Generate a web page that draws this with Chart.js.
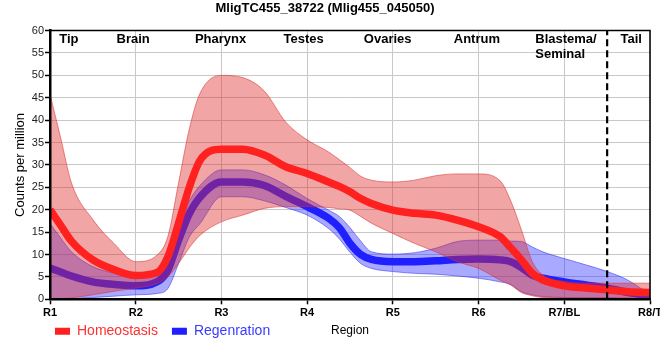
<!DOCTYPE html>
<html><head><meta charset="utf-8">
<script src="https://cdn.jsdelivr.net/npm/chart.js@4/dist/chart.umd.min.js"></script>
<style>html,body{margin:0;padding:0;background:#fff;overflow:hidden}</style>
</head><body>
<canvas id="c" width="660" height="360"></canvas>
<script>
// ---- data ----
const chartTitle = 'MligTC455_38722 (Mlig455_045050)';
const xLabels = ['R1','R2','R3','R4','R5','R6','R7/BL','R8/T'];
const regionNames = [['Tip'],['Brain'],['Pharynx'],['Testes'],['Ovaries'],['Antrum'],['Blastema/','Seminal'],['Tail']];
const regionCenters = [1.22, 1.97, 2.99, 3.96, 4.94, 5.98, 7.02, 7.78];
const tailBoundary = 7.5;
const seriesNames = ['Homeostasis', 'Regenration'];

const samplePos = [1, 1.125, 1.25, 1.5, 1.75, 2, 2.25, 2.375, 2.5, 2.625, 2.75, 3, 3.25, 3.5, 3.75, 4,
  4.25, 4.375, 4.5, 4.625, 4.75, 5, 5.25, 5.5, 5.75, 6, 6.25, 6.375, 6.5, 6.625, 6.75, 7, 7.25, 7.5, 7.75, 8];

const homMean = [20, 16.5, 13, 8.8, 6.6, 5.3, 6.0, 9.5, 17, 25, 31, 33.5, 33.5, 32.2, 29.6, 28.1,
  26.2, 25.2, 24, 22.5, 21.4, 19.9, 19.2, 18.8, 17.7, 16.2, 14, 11.5, 8.8, 5.8, 4.3, 3, 2.5, 2.1, 1.7, 1.5];
const homHi = [45.8, 36, 26, 17.8, 12.4, 8.4, 9.9, 14, 26, 38, 46, 50, 49.5, 46.5, 39.6, 35.6,
  32.9, 31.2, 29.4, 27.5, 26.6, 26.2, 26.6, 27.6, 28, 28, 26.5, 22, 15.5, 8.5, 5.4, 4, 3.6, 3.6, 3.6, 3.6];
const homLo = [0, 0.1, 0.3, 1, 1.8, 2.5, 3.5, 5, 8, 11.5, 14.3, 17.3, 18.8, 20.3, 20.7, 20.7,
  20.5, 20.2, 19.9, 18.5, 17, 14.7, 12.5, 10.6, 8.4, 6.9, 4.3, 3.2, 1.5, 0.8, 0.4, 0.3, 0.3, 0.3, 0.4, 0.5];

const regMean = [7, 6.1, 5.2, 3.9, 3.3, 3.0, 3.9, 6.5, 13.2, 19.1, 22.8, 26.2, 26.2, 25.4, 23, 20.7,
  18.1, 16, 12.5, 10, 8.9, 8.4, 8.4, 8.6, 8.9, 9, 8.8, 8.4, 7.1, 5.4, 4.7, 3.9, 3.2, 2.5, 1.5, 0.7];
const regHi = [16.9, 13.7, 10.6, 7.3, 5.8, 4.8, 5.8, 8, 16.9, 22, 25.4, 28.9, 28.9, 27.8, 25.5, 22.5,
  19.9, 18.5, 16, 13, 10.6, 10.1, 10.4, 11.4, 12.9, 13.2, 13.2, 13, 12.9, 11.7, 10.6, 9.1, 7.7, 6.2, 4.2, 1];
const regLo = [0, 0, 0.1, 0.4, 0.7, 1.0, 1.3, 2.4, 8, 13.9, 16.9, 22.9, 22.9, 22, 20.5, 18.8,
  15.8, 13.5, 10.5, 8, 6.9, 6.2, 5.8, 5.6, 5.2, 4.7, 3.9, 3.3, 1.7, 1, 0.6, 0.4, 0.3, 0.3, 0.2, 0.1];

// ---- styling ----
const FONT = '"Liberation Sans", Arial, sans-serif';
const RED = '#ff2020', BLUE = '#2020ff';
const RED_BAND = 'rgba(225,40,40,0.42)', BLUE_BAND = 'rgba(40,40,255,0.40)';
const RED_EDGE = 'rgba(215,50,50,0.55)', BLUE_EDGE = 'rgba(50,50,240,0.55)';
const legendColors = [RED, BLUE];
const legendTextColors = ['#ff3030', '#3a3aff'];

const pts = arr => samplePos.map((x, i) => ({x, y: arr[i]}));
const common = {pointRadius: 0, pointHoverRadius: 0, cubicInterpolationMode: 'monotone'};

const datasets = [
  {label: 'tail', data: [{x: tailBoundary, y: 0}, {x: tailBoundary, y: 60}], borderColor: '#000',
   borderWidth: 2.2, borderDash: [7, 4], fill: false, pointRadius: 0, tension: 0},
  {label: seriesNames[0], data: pts(homMean), borderColor: RED, borderWidth: 7.5, fill: false, ...common},
  {label: 'homHi', data: pts(homHi), borderColor: RED_EDGE, borderWidth: 1, backgroundColor: RED_BAND, fill: '+1', ...common},
  {label: 'homLo', data: pts(homLo), borderColor: RED_EDGE, borderWidth: 1, fill: false, ...common},
  {label: seriesNames[1], data: pts(regMean), borderColor: BLUE, borderWidth: 7.5, fill: false, ...common},
  {label: 'regHi', data: pts(regHi), borderColor: BLUE_EDGE, borderWidth: 1, backgroundColor: BLUE_BAND, fill: '+1', ...common},
  {label: 'regLo', data: pts(regLo), borderColor: BLUE_EDGE, borderWidth: 1, fill: false, ...common}
];

const decorPlugin = {
  id: 'decor',
  afterLayout(chart) {
    const lg = chart.legend;
    if (!lg) return;
    lg.top = chart.chartArea.bottom + 11;
    lg.bottom = 360;
    lg.left = 41;
    lg.right = 660;
  },
  afterDatasetsDraw(chart) {
    const {ctx, chartArea: a, scales: {x}} = chart;
    ctx.save();
    ctx.strokeStyle = '#000';
    ctx.lineWidth = 1.5;
    ctx.beginPath();
    ctx.moveTo(a.left, a.top);
    ctx.lineTo(a.right, a.top);
    ctx.lineTo(a.right, a.bottom);
    ctx.stroke();
    ctx.font = 'bold 13px ' + FONT;
    ctx.fillStyle = '#000';
    ctx.textBaseline = 'middle';
    ctx.textAlign = 'left';
    regionNames.forEach((lines, i) => {
      const cx = x.getPixelForValue(regionCenters[i]);
      const w = Math.max(...lines.map(l => ctx.measureText(l).width));
      lines.forEach((l, j) => ctx.fillText(l, cx - w / 2, a.top + 9 + j * 14.5));
    });
    ctx.restore();
  }
};

new Chart(document.getElementById('c'), {
  type: 'line',
  data: {datasets},
  options: {
    responsive: false,
    animation: false,
    events: [],
    layout: {padding: {left: 0, right: 10, top: 0, bottom: 0}},
    plugins: {
      title: {display: true, text: chartTitle, color: '#000',
              font: {family: FONT, size: 13, weight: 'bold'}, padding: {top: 1, bottom: 14}},
      tooltip: {enabled: false},
      legend: {
        display: true, position: 'bottom', align: 'start', maxHeight: 20.7,
        labels: {
          boxWidth: 15, boxHeight: 7, padding: 14,
          font: {family: FONT, size: 14},
          generateLabels: () => seriesNames.map((name, i) => ({
            text: name, fillStyle: legendColors[i], strokeStyle: legendColors[i],
            lineWidth: 0, fontColor: legendTextColors[i], hidden: false, datasetIndex: i === 0 ? 1 : 4
          }))
        }
      }
    },
    scales: {
      x: {
        type: 'linear', min: 1, max: 8,
        afterFit: s => { s.height = 40; s.paddingLeft = 0; s.paddingRight = 0; },
        ticks: {stepSize: 1, autoSkip: false, maxRotation: 0, padding: 2, color: '#000',
                font: {family: FONT, size: 11, weight: 'bold'},
                callback: v => xLabels[Math.round(v) - 1] ?? ''},
        grid: {color: '#c8c8c8', lineWidth: 1, tickColor: '#000', tickLength: 5, tickWidth: 1.5},
        border: {display: true, color: '#000', width: 2.5, z: 1},
        title: {display: true, text: 'Region', color: '#000', font: {family: FONT, size: 12},
                padding: {top: 0, bottom: 1}}
      },
      y: {
        type: 'linear', min: 0, max: 60,
        afterFit: s => { s.width = 50; },
        ticks: {stepSize: 5, padding: 1, color: '#222', font: {family: FONT, size: 11}},
        grid: {color: '#c8c8c8', lineWidth: 1, tickColor: '#000', tickLength: 5, tickWidth: 1.5},
        border: {display: true, color: '#000', width: 2.5, z: 1},
        title: {display: true, text: 'Counts per million', color: '#000', font: {family: FONT, size: 13},
                padding: {top: 12.5, bottom: 0}}
      }
    }
  },
  plugins: [decorPlugin]
});
</script>
</body></html>
